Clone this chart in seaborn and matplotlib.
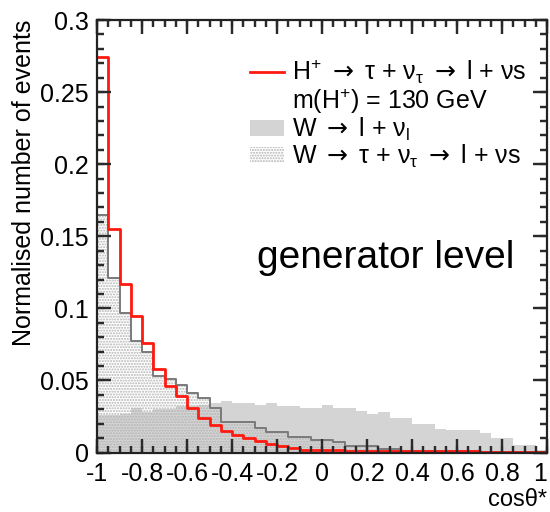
import numpy as np
import pandas as pd
import matplotlib
matplotlib.use("Agg")
import matplotlib.pyplot as plt
import matplotlib.transforms as mtrans
import seaborn as sns
from matplotlib.lines import Line2D
from matplotlib.patches import Patch

# ---- data (40 bins of cos(theta*) from -1 to 1) ----
x_min, x_max, n_bins = -1.0, 1.0, 40

h_plus = [0.274, 0.155, 0.117, 0.095, 0.076, 0.058, 0.046, 0.039, 0.031, 0.024,
          0.019, 0.015, 0.012, 0.010, 0.008, 0.006, 0.0045, 0.003, 0.002, 0.0018,
          0.0015, 0.0014, 0.0013, 0.0012, 0.0011, 0.0010, 0.0010, 0.0009, 0.0009, 0.0008,
          0.0008, 0.0007, 0.0007, 0.0007, 0.0006, 0.0006, 0.0006, 0.0005, 0.0005, 0.0005]

w_lnu = [0.026, 0.026, 0.027, 0.031, 0.028, 0.030, 0.030, 0.032, 0.032, 0.033,
         0.034, 0.036, 0.034, 0.034, 0.033, 0.034, 0.032, 0.032, 0.031, 0.031,
         0.033, 0.031, 0.031, 0.029, 0.027, 0.028, 0.024, 0.024, 0.020, 0.020,
         0.0165, 0.0156, 0.0156, 0.0156, 0.0133, 0.0103, 0.0103, 0.0052, 0.0052, 0.0017]

w_taunu = [0.165, 0.121, 0.097, 0.077, 0.070, 0.053, 0.051, 0.047, 0.041, 0.038,
           0.031, 0.021, 0.021, 0.021, 0.017, 0.014, 0.014, 0.011, 0.011, 0.009,
           0.009, 0.007, 0.0045, 0.0045, 0.0045, 0.0026, 0.0026, 0.0012, 0.0012, 0.0012,
           0.0012, 0.0012, 0.0012, 0.0012, 0.0005, 0.0005, 0.0005, 0.0005, 0.0005, 0.0005]

x_ticks = [-1, -0.8, -0.6, -0.4, -0.2, 0, 0.2, 0.4, 0.6, 0.8, 1]
x_tick_labels = ["-1", "-0.8", "-0.6", "-0.4", "-0.2", "0", "0.2", "0.4", "0.6", "0.8", "1"]
y_ticks = [0, 0.05, 0.1, 0.15, 0.2, 0.25, 0.3]
y_tick_labels = ["0", "0.05", "0.1", "0.15", "0.2", "0.25", "0.3"]

ARR = r"$\mathsf{\rightarrow}$"
labels = [r"H$^{+}$ " + ARR + r" τ + ν$_{τ}$ " + ARR + " l + νs",
          r"m(H$^{+}$) = 130 GeV",
          r"W " + ARR + r" l + ν$_{l}$",
          r"W " + ARR + r" τ + ν$_{τ}$ " + ARR + " l + νs"]

# ---- style ----
plt.rcParams["font.family"] = ["Liberation Sans", "DejaVu Sans"]
plt.rcParams["mathtext.fontset"] = "custom"
plt.rcParams["mathtext.rm"] = "Liberation Sans"
plt.rcParams["mathtext.it"] = "Liberation Sans"
plt.rcParams["mathtext.bf"] = "Liberation Sans:bold"
plt.rcParams["mathtext.sf"] = "DejaVu Sans"
plt.rcParams["mathtext.default"] = "rm"
plt.rcParams["hatch.linewidth"] = 1.0
plt.rcParams["hatch.color"] = "#b4b4b4"
plt.rcParams["axes.unicode_minus"] = False
plt.rcParams.update({
    "xtick.direction": "in", "ytick.direction": "in",
    "xtick.top": True, "xtick.bottom": True, "ytick.left": True, "ytick.right": True,
    "xtick.major.size": 10, "ytick.major.size": 10,
    "xtick.minor.size": 5, "ytick.minor.size": 5,
    "xtick.color": "#2a2a2a", "ytick.color": "#2a2a2a",
    "xtick.labelcolor": "black", "ytick.labelcolor": "black",
    "xtick.labelsize": 18, "ytick.labelsize": 18,
    "xtick.major.pad": 7, "ytick.major.pad": 6,
})

edges = np.linspace(x_min, x_max, n_bins + 1)
centers = 0.5 * (edges[:-1] + edges[1:])
df = pd.DataFrame({"cos": centers, "h_plus": h_plus, "w_lnu": w_lnu, "w_taunu": w_taunu})
hist_kw = dict(data=df, x="cos", bins=n_bins, binrange=(x_min, x_max), element="step")

fig = plt.figure(figsize=(5.5, 5.12), dpi=100)
ax = fig.add_axes([97 / 550, 1 - 452.5 / 512, 450 / 550, 432.5 / 512])

# W -> l nu : solid light-gray fill
sns.histplot(weights="w_lnu", fill=True, color="#d4d4d4", edgecolor="none",
             linewidth=0, alpha=1, ax=ax, zorder=1, **hist_kw)
# W -> tau nu : dotted fill + gray outline
sns.histplot(weights="w_taunu", fill=True, color="#b4b4b4", facecolor=(1, 1, 1, 0),
             edgecolor="#b4b4b4", hatch="......", linewidth=0, ax=ax, zorder=1.5, **hist_kw)
sns.histplot(weights="w_taunu", fill=False, color="#7a7a7a", linewidth=1.4,
             ax=ax, zorder=1.8, **hist_kw)
# H+ signal : red outline
sns.histplot(weights="h_plus", fill=False, color="#ff1a10", linewidth=2.0,
             ax=ax, zorder=2, **hist_kw)

ax.set_xlim(x_min, x_max)
ax.set_ylim(0, 0.3)
ax.set_xticks(x_ticks)
ax.set_xticklabels(x_tick_labels)
ax.get_xticklabels()[-1].set_horizontalalignment("right")
ax.set_yticks(y_ticks)
ax.set_yticklabels(y_tick_labels)
x_minor = np.arange(-1, 1.0001, 0.05)
y_minor = np.arange(0, 0.3001, 0.01)
ax.set_xticks(x_minor, minor=True)
ax.set_yticks(y_minor, minor=True)
ax.tick_params(which="major", length=10, width=1.6, color="#2a2a2a")
ax.tick_params(which="minor", length=5, width=1.6, color="#2a2a2a")

# ROOT-style inward tick marks on all four sides (drawn explicitly as well)
pw, ph = 450.0, 432.5  # axes size in pixels
maj_px, min_px = 13.9, 6.9
tx = mtrans.blended_transform_factory(ax.transData, ax.transAxes)
ty = mtrans.blended_transform_factory(ax.transAxes, ax.transData)
tick_kw = dict(colors="#2a2a2a", linewidths=1.6, zorder=2.6, clip_on=False)
for pos, L in ((x_minor, min_px), (x_ticks, maj_px)):
    ax.vlines(pos, 0, L / ph, transform=tx, **tick_kw)
    ax.vlines(pos, 1 - L / ph, 1, transform=tx, **tick_kw)
for pos, L in ((y_minor, min_px), (y_ticks, maj_px)):
    ax.hlines(pos, 0, L / pw, transform=ty, **tick_kw)
    ax.hlines(pos, 1 - L / pw, 1, transform=ty, **tick_kw)
ax.set_xlim(x_min, x_max)
ax.set_ylim(0, 0.3)

for s in ax.spines.values():
    s.set_visible(True)
    s.set_color("#222222")
    s.set_linewidth(1.6)
    s.set_zorder(3)

ax.set_ylabel("Normalised number of events", fontsize=18, loc="top")
ax.yaxis.set_label_coords(-0.135, 1.0)
ax.set_xlabel("cosθ*", fontsize=17, loc="right")
ax.xaxis.set_label_coords(1.0, -0.085)

ax.text(0.642, 0.45, "generator level", transform=ax.transAxes,
        fontsize=28, ha="center", va="center", color="black")

handles = [Line2D([], [], color="#ff1a10", linewidth=2.0),
           Patch(facecolor="none", edgecolor="none"),
           Patch(facecolor="#d4d4d4", edgecolor="none"),
           Patch(facecolor="none", edgecolor="#b4b4b4", hatch="......", linewidth=0)]
leg = ax.legend(handles, labels, loc="upper left",
                bbox_to_anchor=(250 / 550, 1 - 58 / 512), bbox_transform=fig.transFigure,
                frameon=False, fontsize=18, handlelength=1.35, handleheight=0.6,
                handletextpad=0.35, labelspacing=0.0, borderpad=0, borderaxespad=0)
leg.set_zorder(5)

fig.savefig("out.png", dpi=100)
